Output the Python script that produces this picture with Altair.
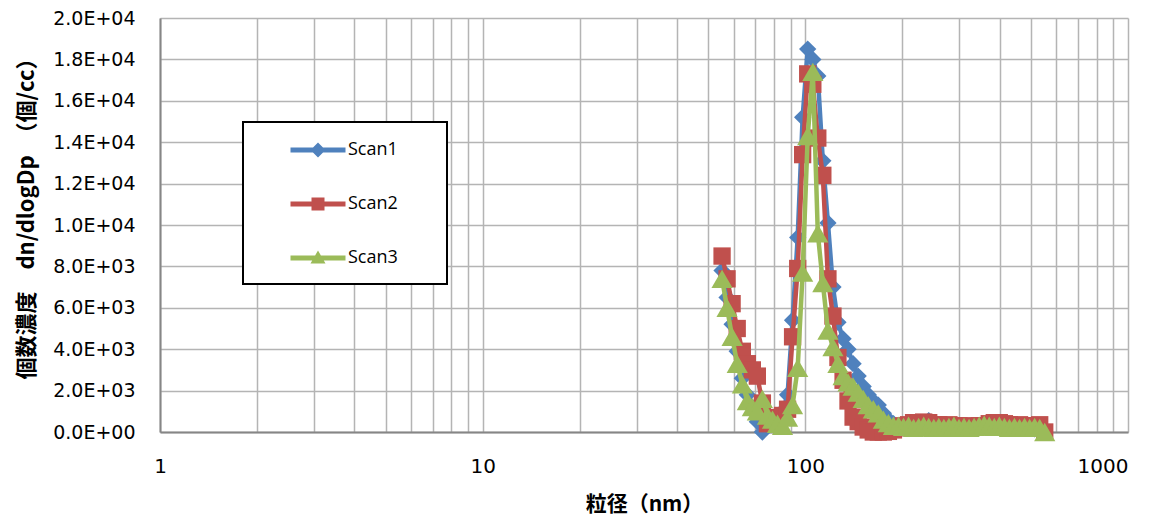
import altair as alt
import pandas as pd

# particle diameters (nm)
diameters = [55.2, 57.2, 59.3, 61.5, 63.8, 66.1, 68.5, 71.0, 73.6, 76.3,
             79.1, 82.0, 85.0, 88.1, 91.3, 94.7, 98.1, 101.7, 105.5, 109.3,
             113.3, 117.5, 121.8, 126.2, 130.9, 135.6, 140.6, 145.8, 151.1, 156.6,
             162.4, 168.3, 174.5, 180.9, 187.5, 194.4, 201.5, 208.9, 216.5, 224.5,
             232.7, 241.2, 250.1, 259.2, 268.7, 278.6, 288.8, 299.4, 310.3, 321.7,
             333.5, 345.7, 358.4, 371.5, 385.1, 399.2, 413.9, 429.0, 444.8, 461.1,
             478.0, 495.5, 513.6, 532.5, 552.0]

scan1 = [7800, 6500, 5200, 3900, 2600, 1800, 1200, 500, 0, 300,
         500, 700, 1000, 1800, 5400, 9400, 15200, 18500, 18000, 17200,
         13100, 10100, 7000, 5300, 4500, 4000, 3300, 2700, 2200, 1800,
         1500, 1300, 900, 600, 400, 300, 250, 300, 250, 300,
         350, 550, 350, 300, 250, 300, 250, 300, 250, 300,
         250, 250, 300, 250, 300, 250, 200, 250, 300, 250,
         200, 200, 150, 100, 0]

scan2 = [8500, 7400, 6200, 5000, 3900, 3300, 3000, 2700, 1400, 400,
         500, 700, 800, 1100, 4600, 7900, 13400, 17300, 16800, 14200,
         12400, 7400, 5600, 3600, 2500, 1500, 720, 500, 240, 100,
         0, 0, 0, 30, 100, 200, 300, 350, 450, 450,
         480, 450, 350, 350, 300, 350, 300, 300, 250, 300,
         250, 300, 300, 400, 450, 450, 400, 350, 300, 350,
         300, 300, 300, 350, 0]

scan3 = [7400, 6000, 4600, 3300, 2300, 1500, 1200, 1000, 1600, 800,
         600, 400, 300, 700, 1300, 3100, 7700, 14300, 17400, 9600,
         7200, 4900, 4100, 3300, 2700, 2400, 2200, 1900, 1600, 1300,
         1100, 900, 600, 430, 300, 300, 250, 300, 200, 250,
         300, 250, 200, 250, 200, 250, 300, 200, 250, 200,
         250, 300, 350, 300, 250, 300, 250, 200, 250, 200,
         250, 200, 250, 200, 0]

series_names = ["Scan1", "Scan2", "Scan3"]
series_colors = ["#4F81BD", "#C0504D", "#9BBB59"]
series_shapes = ["diamond", "square", "triangle-up"]
series_sizes = [300, 300, 450]
legend_paths = [
    "M-1.1,-0.1 H1.1 V0.1 H-1.1 Z M0,-0.3 L0.3,0 L0,0.3 L-0.3,0 Z",
    "M-1.1,-0.1 H1.1 V0.1 H-1.1 Z M-0.26,-0.26 H0.26 V0.26 H-0.26 Z",
    "M-1.1,-0.1 H1.1 V0.1 H-1.1 Z M0,-0.3 L0.3,0.22 L-0.3,0.22 Z",
]

x_ticks = [1, 2, 3, 4, 5, 6, 7, 8, 9, 10, 20, 30, 40, 50, 60, 70, 80, 90,
           100, 200, 300, 400, 500, 600, 700, 800, 900, 1000]
y_ticks = list(range(0, 20001, 2000))

df = pd.DataFrame({"diameter": diameters, "Scan1": scan1, "Scan2": scan2, "Scan3": scan3})
long = df.melt("diameter", var_name="series", value_name="conc")

GRID = "#b4b4b4"
AXIS = "#868686"

exp_expr = "floor(log(datum.value)/LN10 + 1e-9)"
y_label_expr = (
    "datum.value == 0 ? '0.0E+00' : format(datum.value / pow(10, " + exp_expr + "), '.1f') + 'E+' + ("
    + exp_expr + " < 10 ? '0' : '') + " + exp_expr
)

x_enc = alt.X(
    "diameter:Q",
    scale=alt.Scale(type="log", domain=[1, 1000], nice=False),
    title="粒径（nm）",
    axis=alt.Axis(
        values=x_ticks,
        labelExpr="(datum.value == 1 || datum.value == 10 || datum.value == 100 || datum.value == 1000) ? '' + datum.value : ''",
        grid=True, gridColor=GRID, gridWidth=1.5,
        ticks=False, tickSize=0,
        labelPadding=24, labelFont="DejaVu Sans", labelFontSize=20, labelColor="black",
        labelFlush=False, labelOverlap=False,
        labelAlign={"condition": {"test": "datum.value >= 1000", "value": "right"}, "value": "center"},
        domainColor=AXIS, domainWidth=2,
        titleFont="Noto Sans CJK JP", titleFontWeight="bold", titleFontSize=21, titleColor="black",
        titleX=484, titleY=72, titleAlign="center", titleBaseline="middle",
    ),
)

y_enc = alt.Y(
    "conc:Q",
    scale=alt.Scale(domain=[0, 20000], nice=False, zero=True),
    title="個数濃度　dn/dlogDp　（個/cc）",
    axis=alt.Axis(
        values=y_ticks,
        labelExpr=y_label_expr,
        grid=True, gridColor=GRID, gridWidth=1.5,
        ticks=False, tickSize=0,
        labelPadding=25, labelFont="DejaVu Sans", labelFontSize=19, labelColor="black",
        labelFlush=False, labelOverlap=False,
        domainColor=AXIS, domainWidth=2,
        titleFont="Noto Sans CJK JP", titleFontWeight="bold", titleFontSize=22, titleColor="black",
        titleAngle=270, titleX=-134, titleY=195, titleAlign="center", titleBaseline="middle",
    ),
)

box = alt.Chart(alt.Data(values=[{}])).mark_rect(
    fill="white", stroke="black", strokeWidth=2
).encode(x=alt.value(83), x2=alt.value(287), y=alt.value(104), y2=alt.value(266))

layers = [box]
for name, color, shape, size in zip(series_names, series_colors, series_shapes, series_sizes):
    base = alt.Chart(long).transform_filter(alt.datum.series == name)
    layers.append(
        base.mark_line(color=color, strokeWidth=4.5, strokeJoin="round", strokeCap="round")
        .encode(x=x_enc, y=y_enc)
    )
    layers.append(
        base.mark_point(filled=True, shape=shape, size=size, color=color, opacity=1, strokeWidth=0)
        .encode(x=x_enc, y=y_enc)
    )

legend = alt.Legend(
    title=None, orient="none", legendX=133, legendY=107, padding=0,
    symbolSize=2500, symbolStrokeWidth=0, symbolOpacity=1,
    labelFont="Open Sans", labelFontSize=18, labelColor="black", labelOffset=5,
    rowPadding=20,
)

leg_df = pd.DataFrame({"series": series_names, "diameter": [1, 1, 1], "conc": [0, 0, 0]})
leg_layer = alt.Chart(leg_df).mark_point(filled=True, opacity=0).encode(
    x=x_enc, y=y_enc,
    color=alt.Color("series:N", scale=alt.Scale(domain=series_names, range=series_colors), legend=legend),
    shape=alt.Shape("series:N", scale=alt.Scale(domain=series_names, range=legend_paths), legend=legend),
)
layers.append(leg_layer)

chart = alt.layer(*layers).properties(
    width=968, height=414,
    autosize=alt.AutoSizeParams(type="none"),
    padding={"left": 152, "top": 10, "right": 30, "bottom": 90},
    background="white",
).configure_view(stroke="transparent")

chart.save("out.html", embed_options={"renderer": "svg", "actions": False})
